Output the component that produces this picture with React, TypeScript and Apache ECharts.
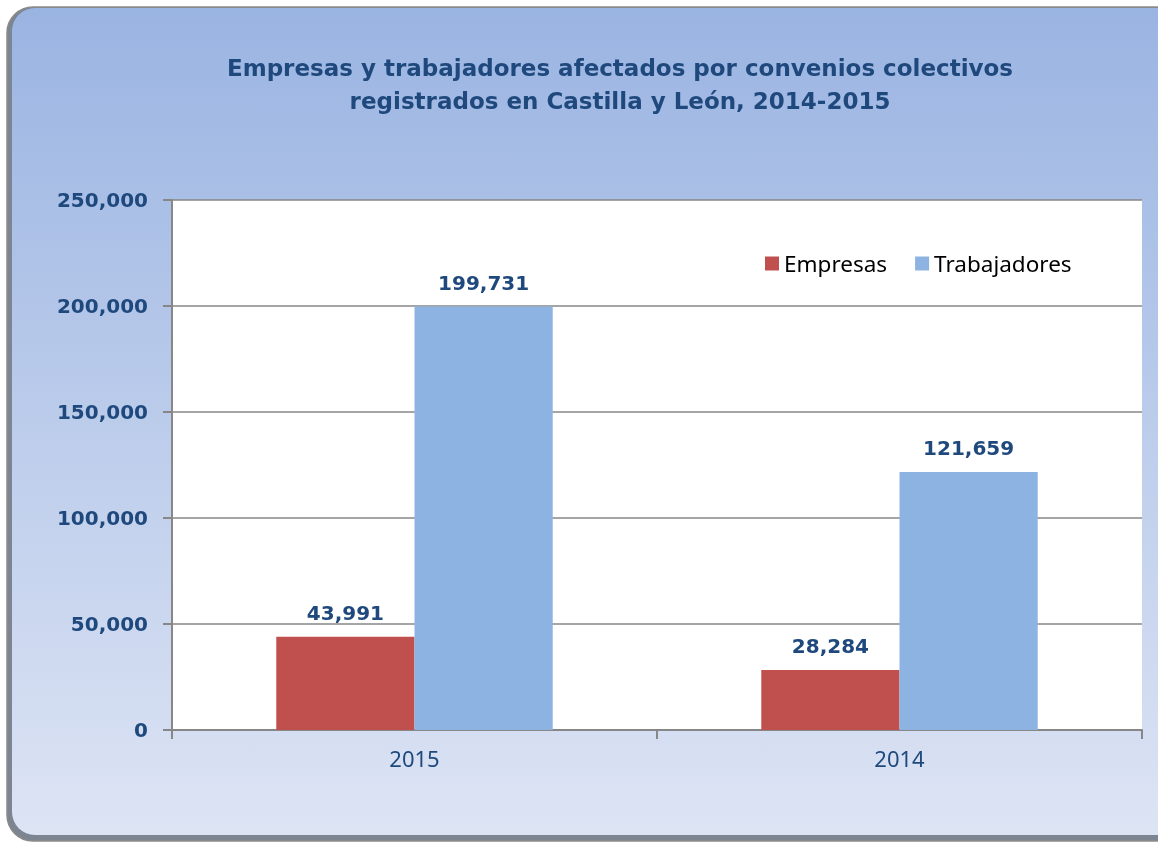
import React, { useEffect, useRef } from "react";
import * as echarts from "echarts";

const TITLE_LINES = [
  "Empresas y trabajadores afectados por convenios colectivos",
  "registrados en Castilla y León, 2014-2015",
];
const categories = ["2015", "2014"];
const seriesNames = ["Empresas", "Trabajadores"];
const empresas = [43991, 28284];
const trabajadores = [199731, 121659];
const yTicks = { min: 0, max: 250000, interval: 50000 };

const fmt = (v: number) => v.toLocaleString("en-US");
const BLUE_TEXT = "#1F497D";

export default function App() {
  const ref = useRef<HTMLDivElement>(null);
  useEffect(() => {
    if (!ref.current) return;
    const chart = echarts.init(ref.current, undefined, { renderer: "svg" });
    const labelStyle = {
      show: true,
      position: "top" as const,
      distance: 14,
      color: BLUE_TEXT,
      fontFamily: "DejaVu Sans",
      fontWeight: "bold" as const,
      fontSize: 20,
      formatter: (p: any) => fmt(p.value),
    };
    chart.setOption({
      animation: false,
      graphic: [
        {
          type: "rect",
          z: -10,
          silent: true,
          shape: { x: 7, y: 7, width: 1175, height: 834, r: 26 },
          style: { fill: "#7c8591", stroke: "#8a8a8a", lineWidth: 1.5 },
        },
        {
          type: "rect",
          z: -9,
          silent: true,
          shape: { x: 12, y: 8, width: 1170, height: 827, r: 23 },
          style: {
            fill: new echarts.graphic.LinearGradient(0, 0, 0, 1, [
              { offset: 0, color: "#9AB4E2" },
              { offset: 1, color: "#DDE4F4" },
            ]),
          },
        },
        {
          type: "text",
          silent: true,
          x: 620,
          y: 51,
          style: {
            text: TITLE_LINES.join("\n"),
            fill: BLUE_TEXT,
            fontFamily: "DejaVu Sans",
            fontWeight: "bold",
            fontSize: 23,
            lineHeight: 33,
            align: "center",
            verticalAlign: "top",
          },
        },
      ],
      legend: {
        left: 760,
        top: 247,
        itemWidth: 14,
        itemHeight: 14,
        itemGap: 28,
        icon: "rect",
        data: seriesNames,
        textStyle: {
          color: "#000",
          fontFamily: "Noto Sans",
          fontSize: 22.5,
        },
      },
      grid: {
        left: 172,
        top: 200,
        width: 970,
        height: 530,
        show: true,
        backgroundColor: "#ffffff",
        borderWidth: 0,
      },
      xAxis: {
        type: "category",
        data: categories,
        axisLine: { lineStyle: { color: "#878787", width: 2 } },
        axisTick: { show: true, length: 9, lineStyle: { color: "#878787", width: 2 } },
        axisLabel: {
          color: BLUE_TEXT,
          fontFamily: "Noto Sans",
          fontSize: 22,
          margin: 17,
        },
      },
      yAxis: {
        type: "value",
        min: yTicks.min,
        max: yTicks.max,
        interval: yTicks.interval,
        axisLine: { show: true, lineStyle: { color: "#878787", width: 2 } },
        axisTick: { show: true, length: 9, lineStyle: { color: "#878787", width: 2 } },
        splitLine: { show: true, lineStyle: { color: "#878787", width: 1.5 } },
        axisLabel: {
          color: BLUE_TEXT,
          fontFamily: "DejaVu Sans",
          fontWeight: "bold",
          fontSize: 20,
          margin: 24,
          formatter: (v: number) => fmt(v),
        },
      },
      series: [
        {
          name: seriesNames[0],
          type: "bar",
          data: empresas,
          barGap: "0%",
          barCategoryGap: "43%",
          itemStyle: { color: "#C0504D" },
          label: labelStyle,
        },
        {
          name: seriesNames[1],
          type: "bar",
          data: trabajadores,
          barGap: "0%",
          barCategoryGap: "43%",
          itemStyle: { color: "#8DB3E2" },
          label: labelStyle,
        },
      ],
    });
    return () => chart.dispose();
  }, []);
  return (
    <div
      ref={ref}
      style={{ position: "fixed", left: 0, top: 0, width: 1158, height: 843 }}
    />
  );
}
